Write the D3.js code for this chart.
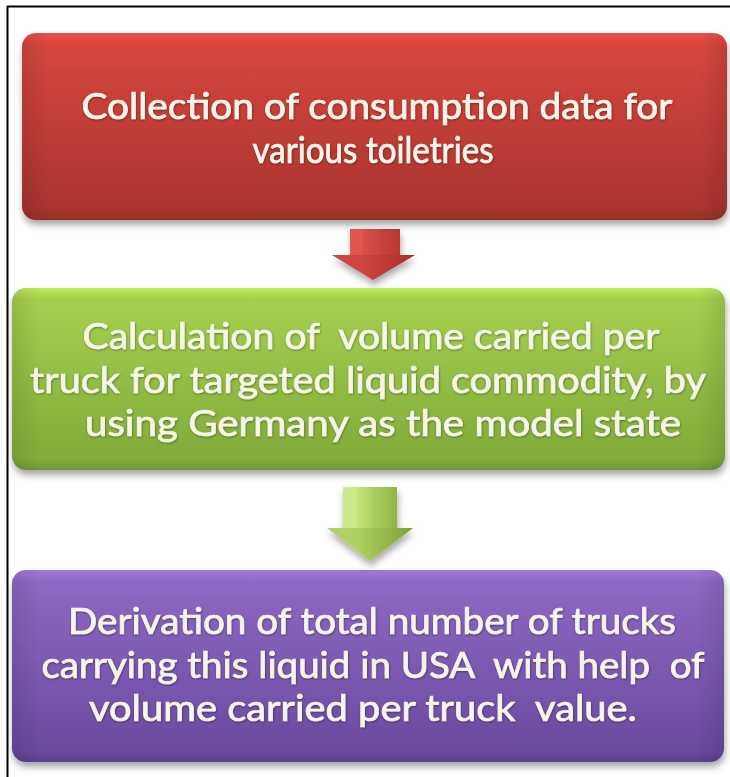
<!DOCTYPE html>
<html>
<head>
<meta charset="utf-8">
<script src="https://cdn.jsdelivr.net/npm/d3@7"></script>
<style>
  html, body { margin: 0; padding: 0; background: #ffffff; }
  svg { display: block; }
  text { white-space: pre; }
</style>
</head>
<body>
<script>
// ---- data ----
const stepNames = ["Collection", "Calculation", "Derivation"];
const stepLines = [
  ["Collection of consumption data for", "various toiletries"],
  ["Calculation of  volume carried per", "truck for targeted liquid commodity, by", "using Germany as the model state"],
  ["Derivation of total number of trucks", "carrying this liquid in USA  with help  of", "volume carried per truck  value."]
];
const stepTopColors = ["#d6463e", "#a6cf50", "#8e69c4"];
const stepBottomColors = ["#aa352f", "#82ab3a", "#6a4a9f"];
const arrowLight = ["#e0514a", "#c6e67a"];
const arrowDark = ["#aa302a", "#7fa436"];

// ---- layout (code, not data) ----
const W = 730, H = 777;
const boxes = [
  { x0: 22, x1: 727, y0: 33,  y1: 220, base: 119 },
  { x0: 12, x1: 725, y0: 288, y1: 470, base: 349 },
  { x0: 12, x1: 724, y0: 570, y1: 762, base: 634 }
];
const lineWidths = [
  [591, 241],
  [577, 676, 596],
  [608, 663, 548]
];
const lineCx = [
  [377, 373],
  [371, 368, 383],
  [372, 373, 363]
];
const lineGap = 43.5;
const arrows = [
  { sx0: 350, sx1: 400, y0: 229, yh: 255, hx0: 332, hx1: 415, tipx: 373, tipy: 280 },
  { sx0: 343, sx1: 397, y0: 487, yh: 528, hx0: 327, hx1: 413, tipx: 370, tipy: 561 }
];

const svg = d3.select("body").append("svg")
  .attr("width", W).attr("height", H)
  .attr("viewBox", `0 0 ${W} ${H}`);

svg.append("rect").attr("width", W).attr("height", H).attr("fill", "#ffffff");

const defs = svg.append("defs");

const shadow = defs.append("filter").attr("id", "shadow")
  .attr("x", "-5%").attr("y", "-10%").attr("width", "110%").attr("height", "125%");
shadow.append("feDropShadow").attr("dx", 1).attr("dy", 5).attr("stdDeviation", 3.5)
  .attr("flood-color", "#000").attr("flood-opacity", 0.35);

const tshadow = defs.append("filter").attr("id", "tshadow")
  .attr("x", "-5%").attr("y", "-20%").attr("width", "110%").attr("height", "140%");
tshadow.append("feDropShadow").attr("dx", 0.5).attr("dy", 1).attr("stdDeviation", 1)
  .attr("flood-color", "#000").attr("flood-opacity", 0.4);

stepNames.forEach((n, i) => {
  const g = defs.append("linearGradient").attr("id", "grad" + i)
    .attr("x1", 0).attr("y1", 0).attr("x2", 0).attr("y2", 1);
  g.append("stop").attr("offset", "0%").attr("stop-color", d3.color(stepTopColors[i]).brighter(0.35));
  g.append("stop").attr("offset", "6%").attr("stop-color", stepTopColors[i]);
  g.append("stop").attr("offset", "94%").attr("stop-color", stepBottomColors[i]);
  g.append("stop").attr("offset", "100%").attr("stop-color", d3.color(stepBottomColors[i]).darker(0.4));
  const hg = defs.append("linearGradient").attr("id", "hgrad" + i)
    .attr("x1", 0).attr("y1", 0).attr("x2", 1).attr("y2", 0);
  hg.append("stop").attr("offset", "0%").attr("stop-color", "#000").attr("stop-opacity", 0.10);
  hg.append("stop").attr("offset", "4%").attr("stop-color", "#000").attr("stop-opacity", 0);
  hg.append("stop").attr("offset", "96%").attr("stop-color", "#000").attr("stop-opacity", 0);
  hg.append("stop").attr("offset", "100%").attr("stop-color", "#000").attr("stop-opacity", 0.10);
});

arrows.forEach((a, i) => {
  const g = defs.append("linearGradient").attr("id", "agrad" + i)
    .attr("x1", 0).attr("y1", 0).attr("x2", 1).attr("y2", 0);
  g.append("stop").attr("offset", "0%").attr("stop-color", arrowLight[i]);
  g.append("stop").attr("offset", "35%").attr("stop-color", arrowLight[i]);
  g.append("stop").attr("offset", "60%").attr("stop-color", d3.interpolateRgb(arrowLight[i], arrowDark[i])(0.45));
  g.append("stop").attr("offset", "100%").attr("stop-color", arrowDark[i]);
});

// outer frame (top and left visible)
svg.append("line").attr("x1", 7).attr("x2", W).attr("y1", 6.5).attr("y2", 6.5)
  .attr("stroke", "#000").attr("stroke-width", 2);
svg.append("line").attr("x1", 7.5).attr("x2", 7.5).attr("y1", 6).attr("y2", H)
  .attr("stroke", "#000").attr("stroke-width", 2);

// arrows
const arrowLineGen = d3.line();
const ag = svg.selectAll("g.arrow").data(arrows).join("g").attr("class", "arrow");
ag.append("path")
  .attr("d", a => arrowLineGen([
    [a.sx0, a.y0], [a.sx1, a.y0], [a.sx1, a.yh], [a.hx1, a.yh],
    [a.tipx, a.tipy], [a.hx0, a.yh], [a.sx0, a.yh]
  ]) + "Z")
  .attr("fill", (a, i) => `url(#agrad${i})`)
  .attr("filter", "url(#shadow)");
ag.append("path")
  .attr("d", a => arrowLineGen([
    [a.hx0, a.yh], [a.hx1, a.yh], [a.tipx, a.tipy]
  ]) + "Z")
  .attr("fill", (a, i) => arrowDark[i]).attr("opacity", 0.3);
ag.append("path")
  .attr("d", a => arrowLineGen([
    [a.sx0, a.y0], [a.sx0 + (a.sx1 - a.sx0) * 0.25, a.y0],
    [a.sx0 + (a.sx1 - a.sx0) * 0.25, a.yh], [a.sx0, a.yh]
  ]) + "Z")
  .attr("fill", "#ffffff").attr("opacity", (a, i) => i === 0 ? 0.04 : 0.12);

// boxes
const bg = svg.selectAll("g.step").data(stepNames).join("g").attr("class", "step");
bg.append("rect")
  .attr("x", (d, i) => boxes[i].x0).attr("y", (d, i) => boxes[i].y0)
  .attr("width", (d, i) => boxes[i].x1 - boxes[i].x0)
  .attr("height", (d, i) => boxes[i].y1 - boxes[i].y0)
  .attr("rx", 14).attr("ry", 14)
  .attr("fill", (d, i) => `url(#grad${i})`)
  .attr("filter", "url(#shadow)");
bg.append("rect")
  .attr("x", (d, i) => boxes[i].x0).attr("y", (d, i) => boxes[i].y0)
  .attr("width", (d, i) => boxes[i].x1 - boxes[i].x0)
  .attr("height", (d, i) => boxes[i].y1 - boxes[i].y0)
  .attr("rx", 14).attr("ry", 14)
  .attr("fill", (d, i) => `url(#hgrad${i})`);

// text
bg.each(function(d, i) {
  const g = d3.select(this);
  stepLines[i].forEach((line, j) => {
    g.append("text")
      .attr("x", lineCx[i][j])
      .attr("y", boxes[i].base + j * lineGap)
      .attr("text-anchor", "middle")
      .attr("font-family", "Lato, 'Open Sans', sans-serif")
      .attr("font-size", 36)
      .attr("fill", "#f6f5ea")
      .attr("stroke", "#f6f5ea")
      .attr("stroke-width", 0.7)
      .attr("filter", "url(#tshadow)")
      .attr("textLength", lineWidths[i][j])
      .attr("lengthAdjust", "spacingAndGlyphs")
      .text(line);
  });
});
</script>
</body>
</html>
